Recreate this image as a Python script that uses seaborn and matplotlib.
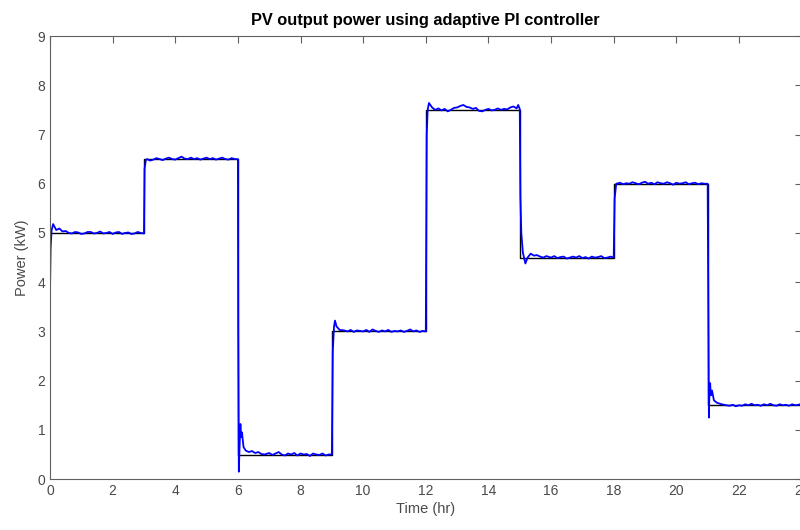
import matplotlib
matplotlib.use("Agg")
import matplotlib.pyplot as plt
import pandas as pd
import seaborn as sns

# reference (set-point) power, step changes every 3 h
REF_TIME = [0, 3, 6, 9, 12, 15, 18, 21, 24]
REF_POWER = [5.0, 6.5, 0.5, 3.0, 7.5, 4.5, 6.0, 1.5, 1.5]

SEG_A_T = [0.0, 0.02, 0.05, 0.1, 0.15, 0.2, 0.3, 0.4, 0.5, 0.6, 0.7, 0.8, 0.9, 1.0, 1.1, 1.2, 1.3, 1.4, 1.5, 1.6, 1.7, 1.8, 1.9, 2.0, 2.1, 2.2, 2.3, 2.4, 2.5, 2.6, 2.7, 2.8, 2.9, 3.0]
SEG_A_P = [3.8, 4.7, 5.05, 5.18, 5.12, 5.06, 5.09, 5.03, 5.04, 5.0, 4.99, 5.02, 5.01, 4.98, 4.99, 5.02, 5.02, 4.99, 5.00, 5.03, 4.99, 5.0, 5.02, 4.98, 5.01, 5.02, 4.98, 5.0, 5.01, 4.98, 4.99, 5.02, 5.00, 4.99]
SEG_B_T = [3.02, 3.06, 3.1, 3.2, 3.3, 3.4, 3.5, 3.6, 3.7, 3.8, 3.9, 4.0, 4.1, 4.2, 4.3, 4.4, 4.5, 4.6, 4.7, 4.8, 4.9, 5.0, 5.1, 5.2, 5.3, 5.4, 5.5, 5.6, 5.7, 5.8, 5.9, 6.0]
SEG_B_P = [6.3, 6.48, 6.5, 6.47, 6.49, 6.52, 6.5, 6.48, 6.51, 6.53, 6.5, 6.49, 6.52, 6.55, 6.51, 6.5, 6.53, 6.5, 6.52, 6.49, 6.51, 6.53, 6.5, 6.52, 6.49, 6.51, 6.53, 6.5, 6.49, 6.52, 6.5, 6.5]
SEG_C_T = [6.01, 6.03, 6.05, 6.08, 6.1, 6.13, 6.18, 6.25, 6.35, 6.45, 6.55, 6.65, 6.75, 6.85, 7.0, 7.1, 7.2, 7.3, 7.4, 7.5, 7.6, 7.7, 7.8, 7.9, 8.0, 8.1, 8.2, 8.3, 8.4, 8.5, 8.6, 8.7, 8.8, 8.9, 9.0]
SEG_C_P = [3.0, 0.15, 0.6, 1.12, 0.85, 0.95, 0.65, 0.58, 0.55, 0.57, 0.53, 0.55, 0.51, 0.5, 0.53, 0.49, 0.52, 0.55, 0.5, 0.48, 0.52, 0.5, 0.53, 0.48, 0.52, 0.5, 0.51, 0.47, 0.52, 0.5, 0.49, 0.52, 0.48, 0.5, 0.5]
SEG_D_T = [9.03, 9.07, 9.1, 9.15, 9.25, 9.4, 9.5, 9.6, 9.7, 9.8, 9.9, 10.0, 10.1, 10.2, 10.3, 10.4, 10.5, 10.6, 10.7, 10.8, 10.9, 11.0, 11.1, 11.2, 11.3, 11.4, 11.5, 11.6, 11.7, 11.8, 11.9, 12.0]
SEG_D_P = [2.6, 3.1, 3.22, 3.1, 3.03, 3.02, 3.0, 3.03, 2.99, 3.02, 3.01, 3.0, 3.03, 2.99, 3.04, 3.01, 2.99, 3.02, 3.0, 3.03, 2.99, 3.01, 3.0, 3.02, 2.99, 3.01, 3.04, 3.0, 3.02, 2.99, 3.01, 3.0]
SEG_E_T = [12.03, 12.06, 12.1, 12.2, 12.3, 12.4, 12.5, 12.6, 12.7, 12.8, 12.9, 13.0, 13.1, 13.2, 13.3, 13.4, 13.5, 13.6, 13.7, 13.8, 13.9, 14.0, 14.1, 14.2, 14.3, 14.4, 14.5, 14.6, 14.7, 14.8, 14.9, 14.95, 15.0]
SEG_E_P = [7.0, 7.5, 7.64, 7.55, 7.5, 7.53, 7.49, 7.52, 7.47, 7.5, 7.54, 7.55, 7.58, 7.6, 7.56, 7.55, 7.52, 7.54, 7.48, 7.47, 7.5, 7.52, 7.49, 7.5, 7.53, 7.5, 7.52, 7.51, 7.55, 7.57, 7.53, 7.6, 7.52]
SEG_F_T = [15.02, 15.05, 15.1, 15.18, 15.25, 15.35, 15.45, 15.55, 15.65, 15.75, 15.85, 16.0, 16.1, 16.2, 16.3, 16.4, 16.5, 16.6, 16.7, 16.8, 16.9, 17.0, 17.1, 17.2, 17.3, 17.4, 17.5, 17.6, 17.7, 17.8, 17.9, 18.0]
SEG_F_P = [5.75, 5.0, 4.6, 4.38, 4.5, 4.58, 4.54, 4.55, 4.52, 4.5, 4.53, 4.5, 4.53, 4.49, 4.51, 4.52, 4.48, 4.5, 4.52, 4.5, 4.53, 4.49, 4.51, 4.48, 4.52, 4.5, 4.51, 4.53, 4.49, 4.5, 4.52, 4.5]
SEG_G_T = [18.03, 18.08, 18.2, 18.3, 18.4, 18.5, 18.6, 18.7, 18.8, 18.9, 19.0, 19.1, 19.2, 19.3, 19.4, 19.5, 19.6, 19.7, 19.8, 19.9, 20.0, 20.1, 20.2, 20.3, 20.4, 20.5, 20.6, 20.7, 20.8, 20.9, 21.0]
SEG_G_P = [5.7, 6.0, 6.02, 5.99, 6.01, 6.0, 6.03, 6.01, 5.99, 6.02, 6.04, 6.0, 6.02, 5.99, 6.03, 6.01, 6.0, 6.03, 6.01, 5.98, 6.02, 6.0, 6.01, 6.03, 5.99, 6.01, 6.02, 5.99, 6.01, 6.0, 6.0]
SEG_H_T = [21.02, 21.04, 21.06, 21.08, 21.1, 21.14, 21.2, 21.3, 21.45, 21.6, 21.7, 21.8, 21.9, 22.0, 22.1, 22.2, 22.3, 22.4, 22.5, 22.6, 22.7, 22.8, 22.9, 23.0, 23.1, 23.2, 23.3, 23.4, 23.5, 23.6, 23.7, 23.8, 23.9, 24.0]
SEG_H_P = [3.5, 1.25, 1.9, 1.95, 1.7, 1.8, 1.6, 1.55, 1.52, 1.5, 1.49, 1.51, 1.48, 1.5, 1.49, 1.52, 1.5, 1.53, 1.5, 1.51, 1.49, 1.52, 1.5, 1.53, 1.5, 1.49, 1.52, 1.5, 1.51, 1.49, 1.52, 1.5, 1.51, 1.53]

X_TICKS = list(range(0, 25, 2))
Y_TICKS = list(range(0, 10))

pv_time = SEG_A_T + SEG_B_T + SEG_C_T + SEG_D_T + SEG_E_T + SEG_F_T + SEG_G_T + SEG_H_T
pv_power = SEG_A_P + SEG_B_P + SEG_C_P + SEG_D_P + SEG_E_P + SEG_F_P + SEG_G_P + SEG_H_P
pv = pd.DataFrame({"time": pv_time, "power": pv_power})
ref = pd.DataFrame({"time": REF_TIME, "power": REF_POWER})

sns.set_theme(style="white")
plt.rcParams["font.family"] = ["Liberation Sans", "DejaVu Sans"]

fig, ax = plt.subplots(figsize=(8, 5.3), dpi=100)
fig.subplots_adjust(left=0.0625, right=1.002, bottom=0.096, top=0.932)

sns.lineplot(data=ref, x="time", y="power", ax=ax, color="black", linewidth=1.0,
             drawstyle="steps-post", estimator=None, sort=False)
sns.lineplot(data=pv, x="time", y="power", ax=ax, color="#0000ff", linewidth=1.3,
             estimator=None, sort=False)

ax.set_xlim(0, 24)
ax.set_ylim(0, 9)
ax.set_xticks(X_TICKS)
ax.set_yticks(Y_TICKS)

text_grey = "#4a4a4a"
ax.tick_params(direction="in", length=5, width=0.8, top=True, right=True,
               colors="#606060", labelcolor=text_grey, labelsize=10)
for s in ax.spines.values():
    s.set_color("#606060")
    s.set_linewidth(0.8)

ax.set_title("PV output power using adaptive PI controller", fontsize=11.8,
             fontweight="bold", color="black", pad=8)
ax.set_xlabel("Time (hr)", fontsize=10.5, color=text_grey, labelpad=3)
ax.set_ylabel("Power (kW)", fontsize=10.5, color=text_grey, labelpad=6)

plt.savefig("out.png", dpi=100)
plt.close()
